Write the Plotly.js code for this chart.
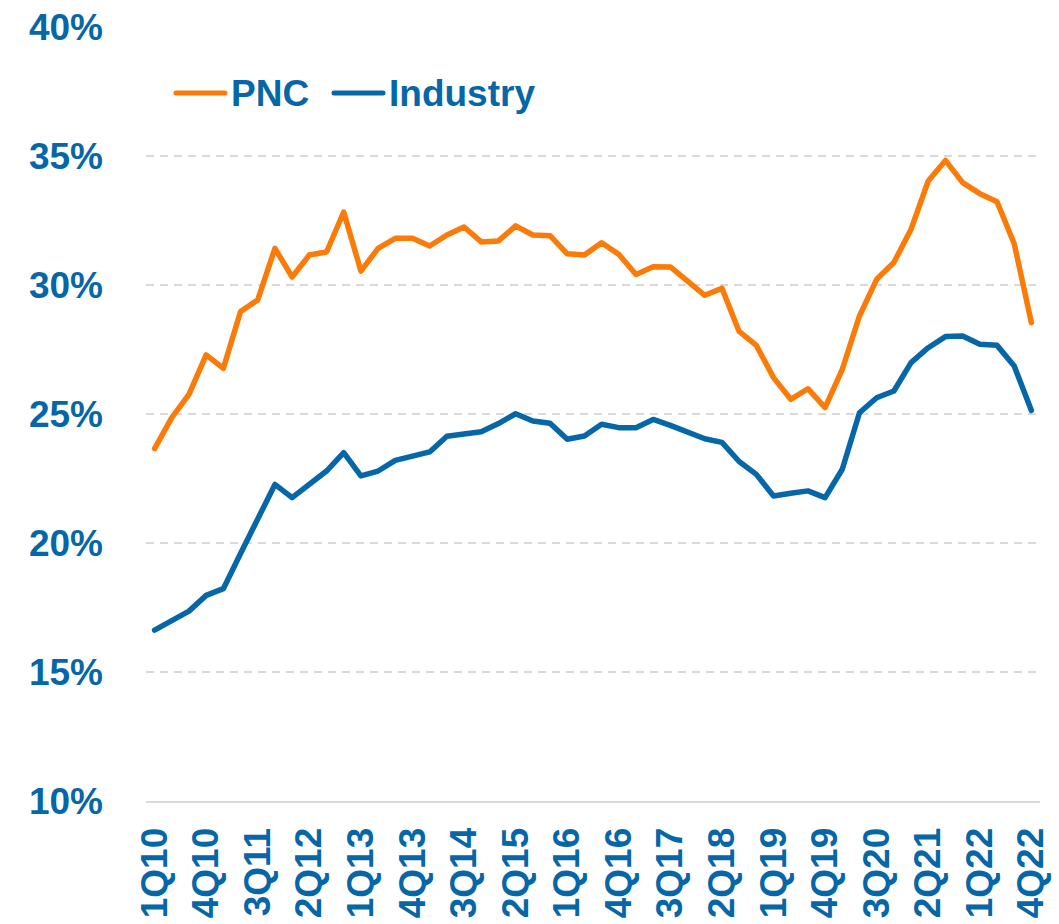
<!DOCTYPE html>
<html>
<head>
<meta charset="utf-8">
<script src="https://cdn.plot.ly/plotly-3.0.1.min.js"></script>
<style>html,body{margin:0;padding:0;background:#fff;}#chart{width:1059px;height:924px;}</style>
</head>
<body>
<div id="chart"></div>
<script>
const quarters = [
  "1Q10","2Q10","3Q10","4Q10","1Q11","2Q11","3Q11","4Q11",
  "1Q12","2Q12","3Q12","4Q12","1Q13","2Q13","3Q13","4Q13",
  "1Q14","2Q14","3Q14","4Q14","1Q15","2Q15","3Q15","4Q15",
  "1Q16","2Q16","3Q16","4Q16","1Q17","2Q17","3Q17","4Q17",
  "1Q18","2Q18","3Q18","4Q18","1Q19","2Q19","3Q19","4Q19",
  "1Q20","2Q20","3Q20","4Q20","1Q21","2Q21","3Q21","4Q21",
  "1Q22","2Q22","3Q22","4Q22"
];
const tickLabels = ["1Q10","4Q10","3Q11","2Q12","1Q13","4Q13","3Q14","2Q15","1Q16",
  "4Q16","3Q17","2Q18","1Q19","4Q19","3Q20","2Q21","1Q22","4Q22"];
const pnc = [23.66,24.86,25.76,27.29,26.77,28.97,29.42,31.42,30.31,31.16,31.28,32.83,
  30.54,31.42,31.81,31.81,31.51,31.94,32.25,31.67,31.71,32.29,31.94,31.91,31.21,31.16,
  31.64,31.19,30.41,30.71,30.70,30.16,29.60,29.87,28.20,27.66,26.41,25.57,25.98,25.25,
  26.73,28.80,30.22,30.87,32.16,34.03,34.83,33.97,33.54,33.23,31.60,28.54];
const industry = [16.62,16.98,17.36,17.97,18.23,19.59,20.92,22.27,21.76,22.27,22.79,23.50,
  22.60,22.79,23.20,23.37,23.53,24.14,24.25,24.31,24.63,25.01,24.73,24.64,24.02,24.15,
  24.60,24.47,24.47,24.79,24.56,24.28,24.04,23.90,23.16,22.66,21.82,21.93,22.02,21.76,
  22.86,25.05,25.63,25.89,26.99,27.57,28.00,28.02,27.70,27.66,26.86,25.14];
const seriesNames = ["PNC","Industry"];

const ORANGE = "#FA7B08";
const BLUE = "#0667A8";
const FONT = "Liberation Sans, Arial, sans-serif";

const W = 1059, H = 924;
const M = {l:146, r:19, t:27, b:123};
const pw = W - M.l - M.r, ph = H - M.t - M.b;
const px = x => (x - M.l) / pw;
const py = y => (H - M.b - y) / ph;

const traces = [
  {x: quarters, y: pnc, name: seriesNames[0], type: "scatter", mode: "lines",
   line: {color: ORANGE, width: 5.5}, hoverinfo: "skip"},
  {x: quarters, y: industry, name: seriesNames[1], type: "scatter", mode: "lines",
   line: {color: BLUE, width: 5.5}, hoverinfo: "skip"}
];

const legendY = 93;
const layout = {
  width: W, height: H,
  margin: {l: M.l, r: M.r, t: M.t, b: M.b, autoexpand: false},
  paper_bgcolor: "#fff", plot_bgcolor: "#fff",
  showlegend: false,
  font: {family: FONT, color: BLUE},
  xaxis: {
    type: "category",
    categoryorder: "array", categoryarray: quarters,
    range: [-0.5, quarters.length - 0.5],
    tickmode: "array", tickvals: tickLabels, ticktext: tickLabels,
    tickangle: -90,
    tickfont: {family: FONT, size: 37, color: BLUE, weight: 700},
    ticks: "", ticklabelstandoff: 10,
    showgrid: false, zeroline: false,
    showline: true, linecolor: "#D9D9D9", linewidth: 2
  },
  yaxis: {
    range: [10, 40], dtick: 5, tick0: 10,
    ticksuffix: "%",
    tickfont: {family: FONT, size: 37, color: BLUE, weight: 700},
    ticks: "", ticklabelstandoff: 42,
    showgrid: true, gridcolor: "#D9D9D9", gridwidth: 1.5, griddash: "8px,6px",
    zeroline: false, showline: false
  },
  shapes: [
    {type: "line", xref: "paper", yref: "paper", x0: px(176), x1: px(225), y0: py(legendY), y1: py(legendY),
     line: {color: ORANGE, width: 5}},
    {type: "line", xref: "paper", yref: "paper", x0: px(334), x1: px(383), y0: py(legendY), y1: py(legendY),
     line: {color: BLUE, width: 5}}
  ],
  annotations: [
    {text: seriesNames[0], xref: "paper", yref: "paper", x: px(229), y: py(legendY), xanchor: "left", yanchor: "middle",
     showarrow: false, font: {family: FONT, size: 37, color: BLUE, weight: 700}},
    {text: seriesNames[1], xref: "paper", yref: "paper", x: px(387), y: py(legendY), xanchor: "left", yanchor: "middle",
     showarrow: false, font: {family: FONT, size: 37, color: BLUE, weight: 700}}
  ]
};

Plotly.newPlot("chart", traces, layout, {staticPlot: true, displayModeBar: false}).then(() => {
  document.querySelectorAll(".scatterlayer path.js-line").forEach(p => {
    p.style.strokeLinejoin = "round"; p.style.strokeLinecap = "round";
  });
  document.querySelectorAll(".layer-above path, .shapelayer path").forEach(p => {
    p.style.strokeLinecap = "round";
  });
});
</script>
</body>
</html>
